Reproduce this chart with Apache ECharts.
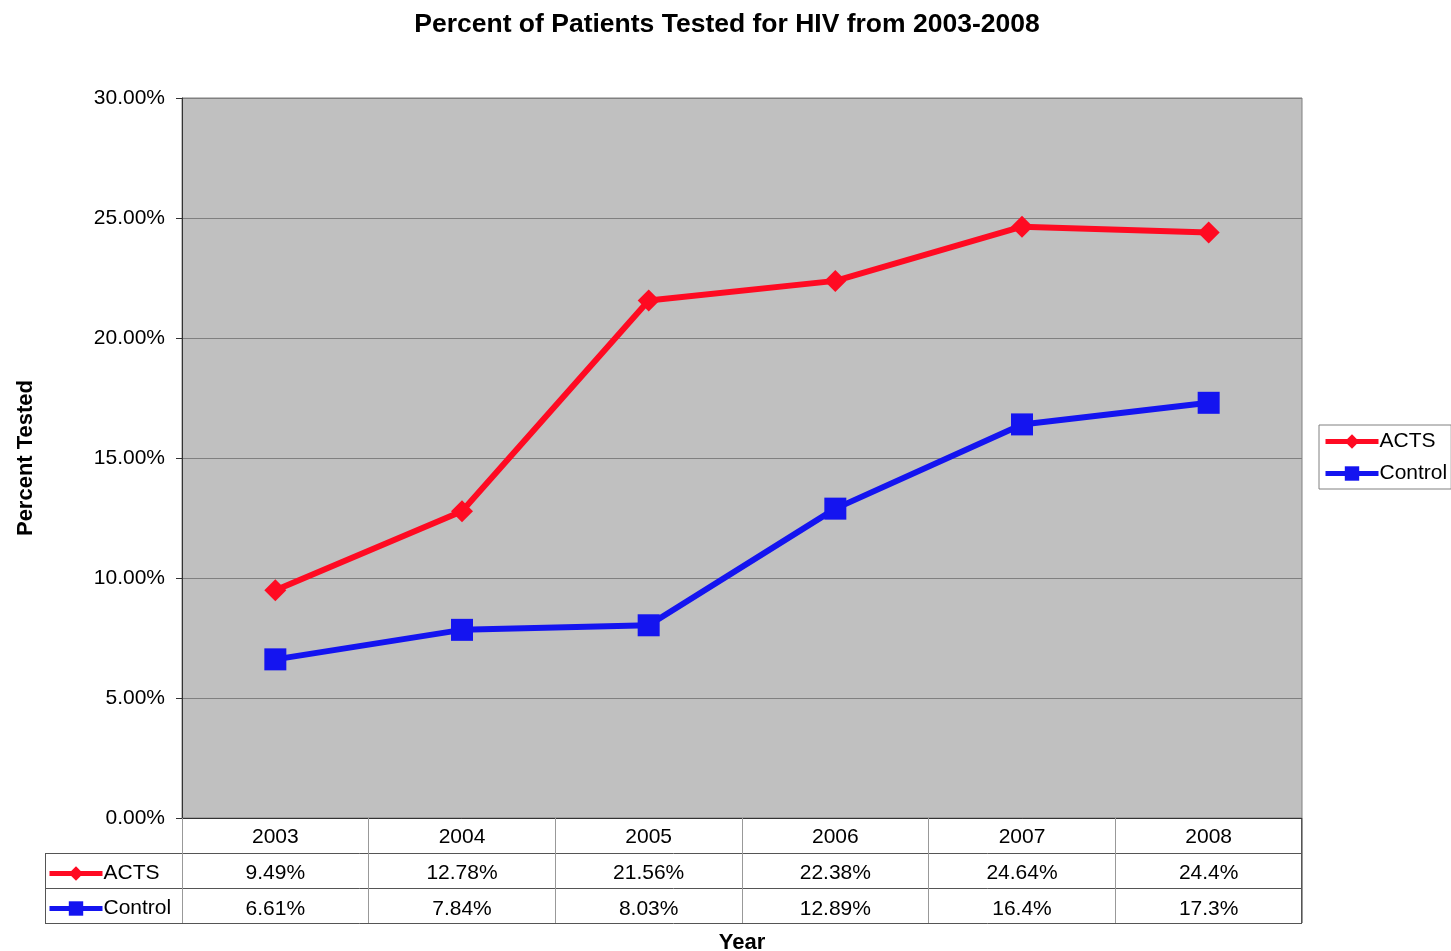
<!DOCTYPE html>
<html>
<head>
<meta charset="utf-8">
<script src="https://cdn.jsdelivr.net/npm/echarts@6/dist/echarts.min.js"></script>
<style>
  html, body { margin: 0; padding: 0; background: #fff; }
  #chart { width: 1451px; height: 951px; }
</style>
</head>
<body>
<div id="chart"></div>
<script>
const years = ["2003", "2004", "2005", "2006", "2007", "2008"];
const acts = [9.49, 12.78, 21.56, 22.38, 24.64, 24.4];
const control = [6.61, 7.84, 8.03, 12.89, 16.4, 17.3];
const actsLabels = ["9.49%", "12.78%", "21.56%", "22.38%", "24.64%", "24.4%"];
const controlLabels = ["6.61%", "7.84%", "8.03%", "12.89%", "16.4%", "17.3%"];

const FONT = "'Liberation Sans', Arial, sans-serif";
const G = { left: 182, top: 98, width: 1120, height: 720 };
const ROW = 35;
const TABLE_LEFT = 45;
const gBottom = G.top + G.height;
const gRight = G.left + G.width;

const chart = echarts.init(document.getElementById("chart"));

// table frame lines (rows below the axis)
const tableLines = [];
[1, 2, 3].forEach(function (i) {
  const y = gBottom + i * ROW + 0.5;
  tableLines.push({ type: "line", shape: { x1: TABLE_LEFT, y1: y, x2: gRight, y2: y }, style: { stroke: "#555", lineWidth: 1 } });
});
tableLines.push({ type: "line", shape: { x1: TABLE_LEFT + 0.5, y1: gBottom + ROW, x2: TABLE_LEFT + 0.5, y2: gBottom + 3 * ROW }, style: { stroke: "#555", lineWidth: 1 } });
tableLines.push({ type: "line", shape: { x1: G.left + 0.5, y1: gBottom, x2: G.left + 0.5, y2: gBottom + 3 * ROW }, style: { stroke: "#555", lineWidth: 1 } });
tableLines.push({ type: "line", shape: { x1: gRight - 0.5, y1: gBottom, x2: gRight - 0.5, y2: gBottom + 3 * ROW }, style: { stroke: "#555", lineWidth: 1 } });

const legendText = { fontFamily: FONT, fontSize: 21, color: "#000", padding: [0, 0, 0, -4] };

chart.setOption({
  animation: false,
  textStyle: { fontFamily: FONT },
  title: {
    text: "Percent of Patients Tested for HIV from 2003-2008",
    left: 722, top: 6, textAlign: "center",
    textStyle: { fontFamily: FONT, fontSize: 26.5, fontWeight: "bold", color: "#000" }
  },
  legend: [
    {
      data: ["ACTS", "Control"],
      orient: "vertical",
      left: 1319, top: 425,
      padding: [6, 4, 5, 4],
      borderColor: "#808080", borderWidth: 1,
      itemWidth: 53, itemHeight: 18, itemGap: 11,
      lineStyle: { width: 5 },
      textStyle: legendText
    },
    {
      data: ["ACTS", "Control"],
      orient: "vertical",
      left: TABLE_LEFT + 2, top: gBottom + ROW + 10,
      padding: 0,
      itemWidth: 53, itemHeight: 18, itemGap: 14,
      lineStyle: { width: 5 },
      textStyle: legendText
    }
  ],
  grid: {
    left: G.left, top: G.top, width: G.width, height: G.height,
    outerBoundsMode: "none",
    containLabel: false,
    show: true, backgroundColor: "#c0c0c0", borderColor: "#808080", borderWidth: 1
  },
  xAxis: {
    type: "category",
    data: years,
    boundaryGap: true,
    name: "Year",
    nameLocation: "middle",
    nameGap: 112,
    nameTextStyle: { fontFamily: FONT, fontSize: 22, fontWeight: "bold", color: "#000" },
    axisLine: { lineStyle: { color: "#333", width: 1 } },
    axisTick: { show: true, length: 3 * ROW, lineStyle: { color: "#999" } },
    axisLabel: {
      margin: 1,
      interval: 0,
      formatter: function (v, i) {
        return "{a|" + v + "}\n{a|" + actsLabels[i] + "}\n{a|" + controlLabels[i] + "}";
      },
      rich: { a: { fontFamily: FONT, fontSize: 21, color: "#000", lineHeight: 36, height: 36, align: "center", verticalAlign: "middle" } }
    }
  },
  yAxis: {
    type: "value",
    min: 0, max: 30, interval: 5,
    name: "Percent Tested",
    nameLocation: "middle",
    nameGap: 145,
    nameRotate: 90,
    nameTextStyle: { fontFamily: FONT, fontSize: 22, fontWeight: "bold", color: "#000" },
    axisLine: { show: true, lineStyle: { color: "#333", width: 1 } },
    axisTick: { show: true, length: 6, lineStyle: { color: "#333" } },
    axisLabel: {
      margin: 17,
      fontFamily: FONT, fontSize: 21, color: "#000",
      formatter: function (v) { return v.toFixed(2) + "%"; }
    },
    splitLine: { show: true, lineStyle: { color: "#808080", width: 1 } }
  },
  graphic: tableLines,
  series: [
    {
      name: "ACTS",
      type: "line",
      data: acts,
      symbol: "diamond",
      symbolSize: 22,
      lineStyle: { color: "#ff0a22", width: 6 },
      itemStyle: { color: "#ff0a22" }
    },
    {
      name: "Control",
      type: "line",
      data: control,
      symbol: "rect",
      symbolSize: 22,
      lineStyle: { color: "#1414f0", width: 6 },
      itemStyle: { color: "#1414f0" }
    }
  ]
});
</script>
</body>
</html>
